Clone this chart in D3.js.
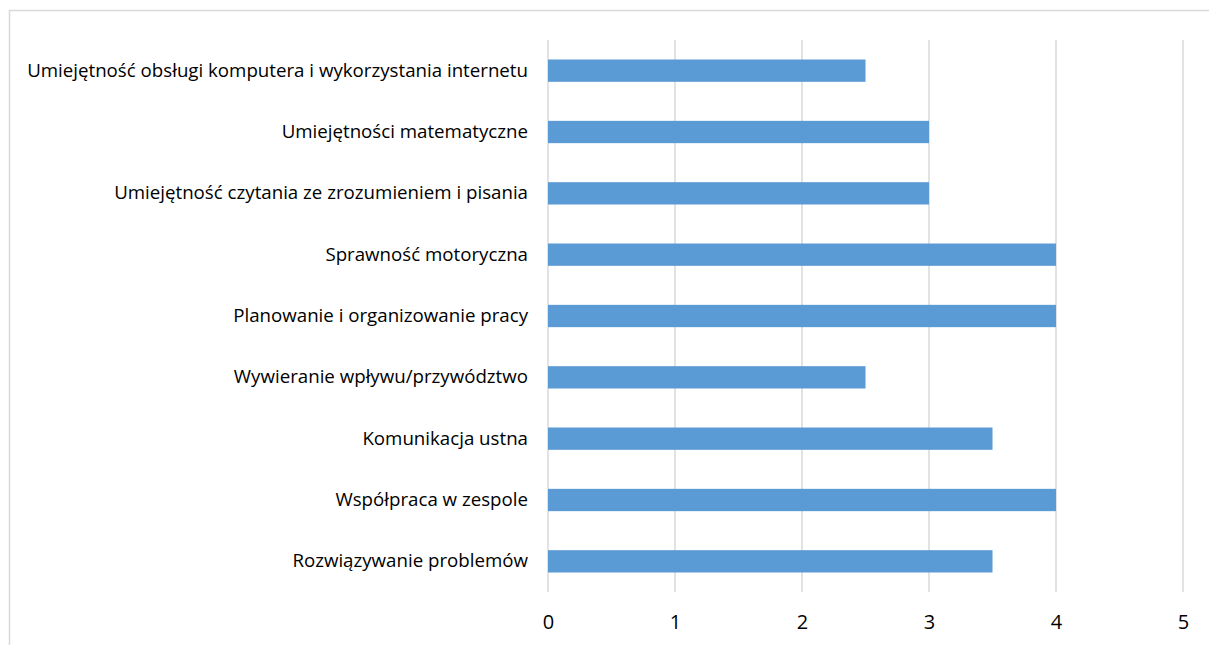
<!DOCTYPE html>
<html>
<head>
<meta charset="utf-8">
<script src="https://cdn.jsdelivr.net/npm/d3@7"></script>
<style>
  html, body { margin: 0; padding: 0; background: #fff; }
  svg { display: block; }
  text { font-family: "Open Sans", "Liberation Sans", Arial, sans-serif; fill: #000; }
</style>
</head>
<body>
<div id="chart"></div>
<script>
// categories listed top to bottom, as in the picture
var categories = [
    "Umiejętność obsługi komputera i wykorzystania internetu",
    "Umiejętności matematyczne",
    "Umiejętność czytania ze zrozumieniem i pisania",
    "Sprawność motoryczna",
    "Planowanie i organizowanie pracy",
    "Wywieranie wpływu/przywództwo",
    "Komunikacja ustna",
    "Współpraca w zespole",
    "Rozwiązywanie problemów"
];
var values = [2.5, 3, 3, 4, 4, 2.5, 3.5, 4, 3.5];
var xTicks = [0, 1, 2, 3, 4, 5];

var width = 1209, height = 645;
var margin = { top: 40, right: 26, bottom: 53, left: 548 };

var svg = d3.select("#chart").append("svg")
    .attr("width", width)
    .attr("height", height);

// chart frame (runs off right and bottom edge)
svg.append("rect")
    .attr("x", 9.5).attr("y", 10.5)
    .attr("width", width).attr("height", height)
    .style("fill", "none")
    .style("stroke", "#d9d9d9")
    .style("stroke-width", 1.5);

var x = d3.scaleLinear()
    .domain([0, 5])
    .range([margin.left, width - margin.right]);

var y = d3.scaleBand()
    .domain(categories)
    .range([margin.top, height - margin.bottom])
    .paddingInner(0.636)
    .paddingOuter(0.318);

// gridlines
svg.selectAll(".grid")
    .data(xTicks)
    .enter().append("line")
    .attr("class", "grid")
    .attr("x1", function(d) { return x(d); })
    .attr("x2", function(d) { return x(d); })
    .attr("y1", margin.top)
    .attr("y2", height - margin.bottom)
    .style("stroke", "#d9d9d9")
    .style("stroke-width", 1.5);

// bars
svg.selectAll(".bar")
    .data(values)
    .enter().append("rect")
    .attr("class", "bar")
    .attr("x", x(0))
    .attr("y", function(d, i) { return y(categories[i]); })
    .attr("width", function(d) { return x(d) - x(0); })
    .attr("height", y.bandwidth())
    .style("fill", "#5b9bd5");

// x axis labels
var xAxis = d3.axisBottom(x).tickValues(xTicks).tickFormat(d3.format("d"))
    .tickSize(0).tickPadding(0);
var gx = svg.append("g")
    .attr("transform", "translate(0," + 615 + ")")
    .call(xAxis);
gx.select(".domain").remove();
gx.selectAll("text")
    .style("font-size", "20px")
    .style("font-family", "'Open Sans', 'Liberation Sans', Arial, sans-serif");

// category labels
var yAxis = d3.axisLeft(y).tickSize(0).tickPadding(20);
var gy = svg.append("g")
    .attr("transform", "translate(" + x(0) + ",0)")
    .call(yAxis);
gy.select(".domain").remove();
gy.selectAll("text")
    .style("font-size", "18.7px")
    .style("font-family", "'Open Sans', 'Liberation Sans', Arial, sans-serif");
</script>
</body>
</html>
